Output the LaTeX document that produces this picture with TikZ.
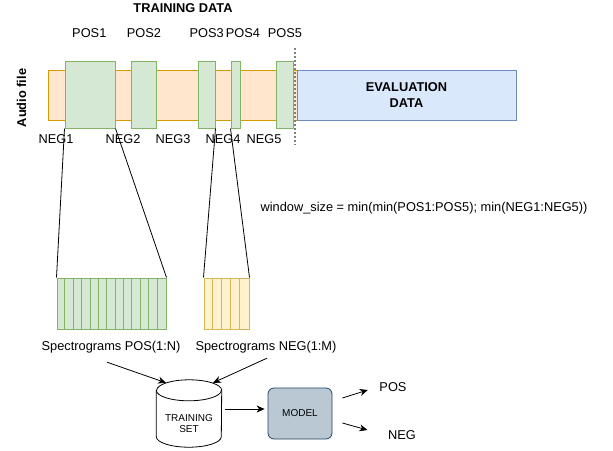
\documentclass[tikz,border=0pt]{standalone}
\usepackage{fontspec}
\setmainfont{Liberation Sans}
\usepackage{tikz}
\usetikzlibrary{arrows.meta,calc}

\definecolor{segfill}{HTML}{FFE6CC}
\definecolor{segline}{HTML}{D79B00}
\definecolor{posfill}{HTML}{D5E8D4}
\definecolor{posline}{HTML}{82B366}
\definecolor{evalfill}{HTML}{DAE8FC}
\definecolor{evalline}{HTML}{6C8EBF}
\definecolor{negfill}{HTML}{FFF2CC}
\definecolor{negline}{HTML}{D6B656}
\definecolor{modelfill}{HTML}{BAC8D3}
\definecolor{modelline}{HTML}{23445D}

\tikzset{
    txt/.style={font=\fontsize{12.8}{15.4}\selectfont, inner sep=0pt},
    btxt/.style={font=\fontsize{12.8}{15.4}\selectfont\bfseries, inner sep=0pt},
    small/.style={font=\fontsize{10}{11}\selectfont},
    box/.style={rectangle, inner sep=0pt, line width=1pt},
    posbox/.style={box, draw=posline, fill=posfill, minimum height=67pt},
    arr/.style={-{Stealth[length=8pt, width=7pt, inset=2.5pt]}, line width=0.8pt},
}

\begin{document}
\begin{tikzpicture}[x=1pt, y=-1pt]
    \useasboundingbox (0,0) rectangle (613,450);

    \node[btxt, rotate=90] (audio) at (21.5, 98) {Audio file};
    \node[box, draw=segline, fill=segfill, minimum width=249pt, minimum height=50pt] (train) at (172.5, 95) {};
    \node[box, draw=evalline, fill=evalfill, minimum width=219pt, minimum height=50pt,
          btxt, align=center] (eval) at (406.5, 95) {EVALUATION\\DATA};

    \node[posbox, minimum width=50pt] (pos1) at (90, 94.5) {};
    \node[posbox, minimum width=25pt] (pos2) at (143.5, 94.5) {};
    \node[posbox, minimum width=17pt] (pos3) at (206.5, 94.5) {};
    \node[posbox, minimum width=9pt] (pos4) at (235.5, 94.5) {};
    \node[posbox, minimum width=17pt] (pos5) at (284.5, 94.5) {};
    \draw[gray, dash pattern=on 2pt off 2pt, line width=1.2pt] (295, 48) -- (295, 145);

    \node[btxt] (title) at (183, 8) {TRAINING DATA};
    \foreach \n/\x in {1/89.3, 2/144, 3/206.7, 4/243, 5/285}
        \node[txt] (poslbl\n) at (\x, 33.3) {POS\n};
    \foreach \n/\x in {1/56, 2/123, 3/173, 4/223, 5/264}
        \node[txt] (neglbl\n) at (\x, 139.5) {NEG\n};

    \node[txt] (wsize) at (424, 208) {window\_size = min(min(POS1:POS5); min(NEG1:NEG5))};

    % spectrogram stacks
    \node[box, draw=posline, fill=posfill, minimum width=109pt, minimum height=51pt] (specpos) at (111.5, 303.5) {};
    \foreach \i in {1,...,12}
        \draw[posline, line width=1pt] ($(specpos.north west)+(\i*8.385, 0)$) -- ($(specpos.south west)+(\i*8.385, 0)$);
    \node[box, draw=negline, fill=negfill, minimum width=45pt, minimum height=51pt] (specneg) at (226.5, 303.5) {};
    \foreach \i in {1,...,4}
        \draw[negline, line width=1pt] ($(specneg.north west)+(\i*9, 0)$) -- ($(specneg.south west)+(\i*9, 0)$);

    \draw[line width=0.8pt] (pos1.south west) -- (specpos.north west)
          (pos1.south east) -- (specpos.north east)
          (pos3.south east) -- (specneg.north west)
          (pos4.south west) -- (specneg.north east);

    \node[txt] (speclblpos) at (111, 347) {Spectrograms POS(1:N)};
    \node[txt] (speclblneg) at (266, 347) {Spectrograms NEG(1:M)};

    % training set drum
    \node[inner sep=0pt, minimum width=65pt, minimum height=67pt] (tset) at (189, 413.5) {};
    \draw[fill=white, line width=0.8pt] ($(tset.north west)+(0, 10.5)$) -- ($(tset.south west)+(0, -10.5)$)
        arc[start angle=180, end angle=360, x radius=32.5pt, y radius=10.5pt]
        -- ($(tset.north east)+(0, 10.5)$)
        arc[start angle=0, end angle=180, x radius=32.5pt, y radius=10.5pt] -- cycle;
    \draw[line width=0.8pt] ($(tset.north west)+(0, 10.5)$)
        arc[start angle=180, end angle=360, x radius=32.5pt, y radius=10.5pt];
    \node[small, align=center, inner sep=0pt] (tsetlbl) at ($(tset.center)+(0, 10.5)$) {TRAINING\\SET};

    \node[rectangle, rounded corners=6pt, draw=modelline, fill=modelfill, line width=0.8pt,
          minimum width=64pt, minimum height=51pt, small] (model) at (300, 413.5) {MODEL};

    \node[txt] (posout) at (393, 387) {POS};
    \node[txt] (negout) at (402, 435) {NEG};

    \draw[arr] ($(speclblpos.south)+(-4, 9)$) -- ($(tset.north)+(-23, 3)$);
    \draw[arr] ($(speclblneg.south)+(1, 5)$) -- ($(tset.north)+(24, 3)$);
    \draw[arr] ($(tset.east)+(3, -4.5)$) -- ($(model.west)+(-3, -4.5)$);
    \draw[arr] ($(model.east)+(10, -15.5)$) -- ($(posout.west)+(-11.5, 3)$);
    \draw[arr] ($(model.east)+(10, 9.5)$) -- ($(negout.west)+(-20.5, -5)$);
\end{tikzpicture}
\end{document}
